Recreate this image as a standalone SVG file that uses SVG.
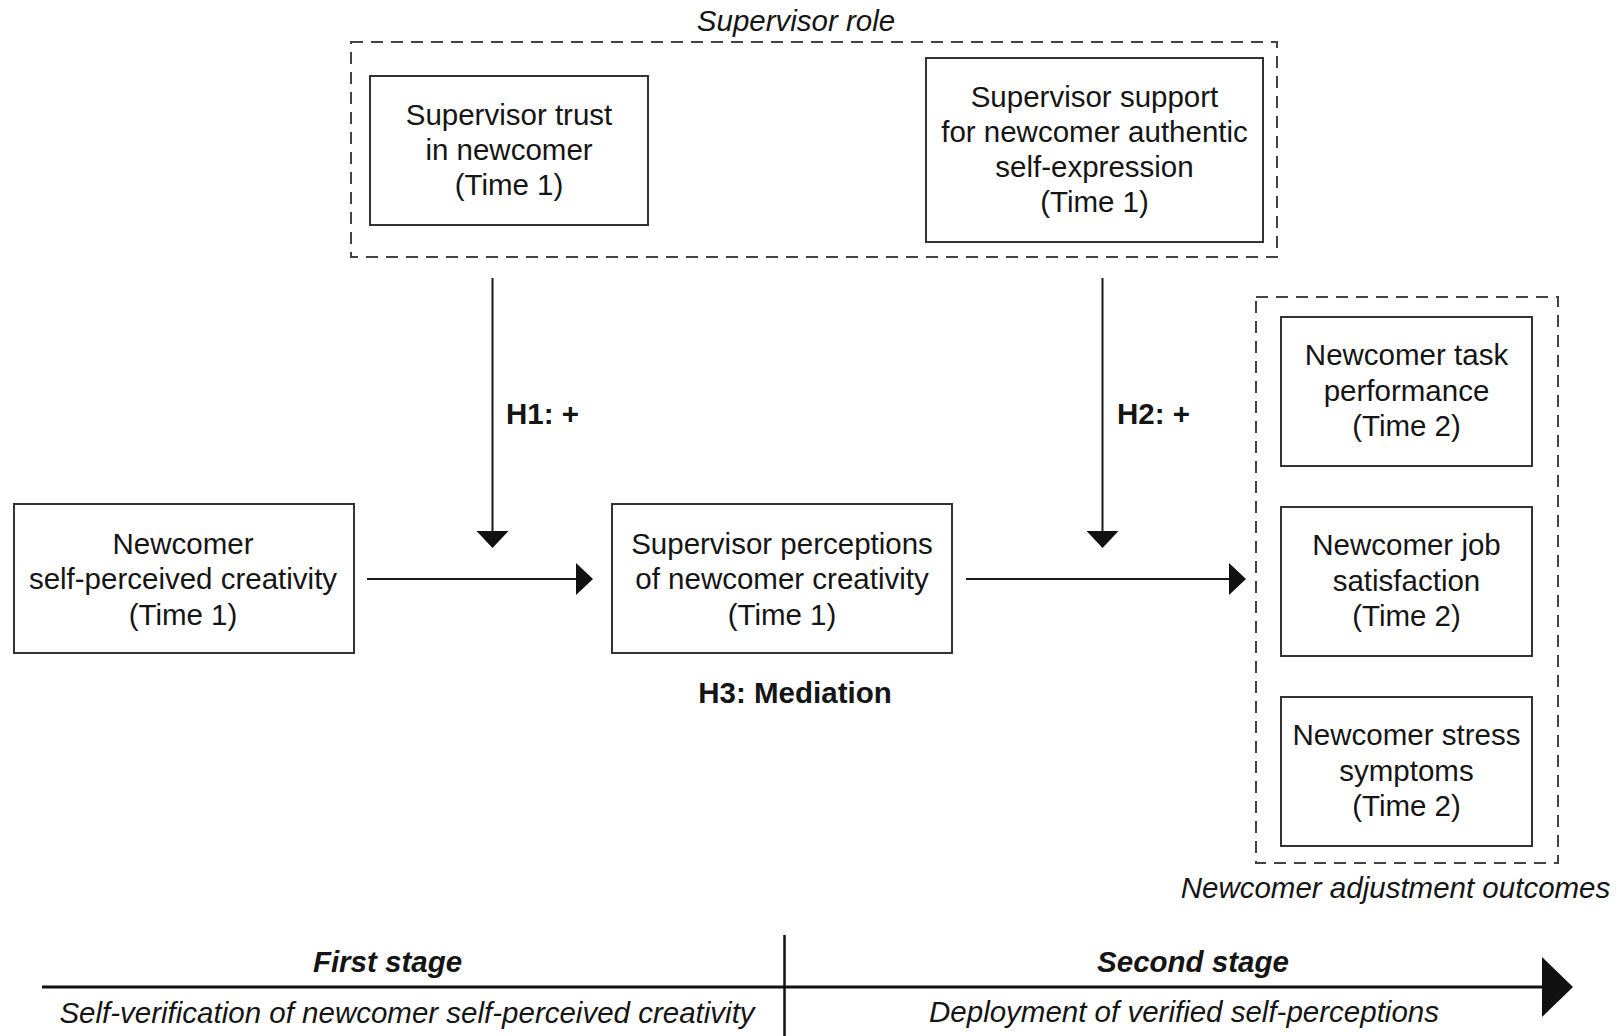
<svg xmlns="http://www.w3.org/2000/svg" width="1623" height="1036" viewBox="0 0 1623 1036">
<defs>
<style>
.box{fill:#fff;stroke:#333;stroke-width:2}
.grp{fill:none;stroke:#444;stroke-width:2;stroke-dasharray:12 8}
.t{font-family:"Liberation Sans",Arial,sans-serif;font-size:29.5px;fill:#151515;text-anchor:middle}
.i{font-style:italic}
.b{font-weight:bold}
.s{text-anchor:start}
.conn{stroke:#1a1a1a;stroke-width:2;fill:none}
</style>
<marker id="ah" markerUnits="userSpaceOnUse" markerWidth="17" markerHeight="32" refX="15" refY="16" orient="auto">
<path d="M0,0 L17,16 L0,32 z" fill="#111"/>
</marker>
</defs>
<rect width="1623" height="1036" fill="#fff"/>

<g id="supervisor-role">
<rect class="grp" x="351" y="42" width="926" height="215"/>
<text class="t i" x="796" y="31">Supervisor role</text>
</g>

<g id="trust">
<rect class="box" x="370" y="76" width="278" height="149"/>
<text class="t" x="509" y="125">Supervisor trust</text>
<text class="t" x="509" y="160">in newcomer</text>
<text class="t" x="509" y="195">(Time 1)</text>
</g>

<g id="support">
<rect class="box" x="926" y="58" width="337" height="184"/>
<text class="t" x="1094.5" y="107">Supervisor support</text>
<text class="t" x="1094.5" y="142">for newcomer authentic</text>
<text class="t" x="1094.5" y="177">self-expression</text>
<text class="t" x="1094.5" y="212">(Time 1)</text>
</g>

<g id="self-creativity">
<rect class="box" x="14" y="504" width="340" height="149"/>
<text class="t" x="183" y="554">Newcomer</text>
<text class="t" x="183" y="589">self-perceived creativity</text>
<text class="t" x="183" y="624.5">(Time 1)</text>
</g>

<g id="supervisor-perceptions">
<rect class="box" x="612" y="504" width="340" height="149"/>
<text class="t" x="782" y="554">Supervisor perceptions</text>
<text class="t" x="782" y="589">of newcomer creativity</text>
<text class="t" x="782" y="624.5">(Time 1)</text>
</g>

<g id="outcomes">
<rect class="grp" x="1256" y="297" width="302" height="566"/>
<text class="t i" x="1395.5" y="898">Newcomer adjustment outcomes</text>
</g>

<g id="task-performance">
<rect class="box" x="1281" y="317" width="251" height="149"/>
<text class="t" x="1406.5" y="365">Newcomer task</text>
<text class="t" x="1406.5" y="400.5">performance</text>
<text class="t" x="1406.5" y="436">(Time 2)</text>
</g>

<g id="job-satisfaction">
<rect class="box" x="1281" y="507" width="251" height="149"/>
<text class="t" x="1406.5" y="555">Newcomer job</text>
<text class="t" x="1406.5" y="590.5">satisfaction</text>
<text class="t" x="1406.5" y="626">(Time 2)</text>
</g>

<g id="stress-symptoms">
<rect class="box" x="1281" y="697" width="251" height="149"/>
<text class="t" x="1406.5" y="745">Newcomer stress</text>
<text class="t" x="1406.5" y="780.5">symptoms</text>
<text class="t" x="1406.5" y="816">(Time 2)</text>
</g>

<g id="connectors">
<line class="conn" x1="492.5" y1="278" x2="492.5" y2="546" marker-end="url(#ah)"/>
<line class="conn" x1="1102.5" y1="278" x2="1102.5" y2="546" marker-end="url(#ah)"/>
<line class="conn" x1="367" y1="579" x2="591" y2="579" marker-end="url(#ah)"/>
<line class="conn" x1="966" y1="579" x2="1244" y2="579" marker-end="url(#ah)"/>
</g>

<g id="labels">
<text class="t b s" x="506" y="424">H1: +</text>
<text class="t b s" x="1117" y="424">H2: +</text>
<text class="t b" x="795" y="703">H3: Mediation</text>
</g>

<g id="timeline">
<line x1="42" y1="987" x2="1545" y2="987" stroke="#111" stroke-width="3"/>
<polygon points="1542,957 1573,987 1542,1017" fill="#111"/>
<line x1="784.5" y1="935" x2="784.5" y2="1036" stroke="#111" stroke-width="2.5"/>
<text class="t b i" x="387.5" y="972">First stage</text>
<text class="t i" x="407" y="1023">Self-verification of newcomer self-perceived creativity</text>
<text class="t b i" x="1193" y="972">Second stage</text>
<text class="t i" x="1184" y="1022">Deployment of verified self-perceptions</text>
</g>
</svg>
